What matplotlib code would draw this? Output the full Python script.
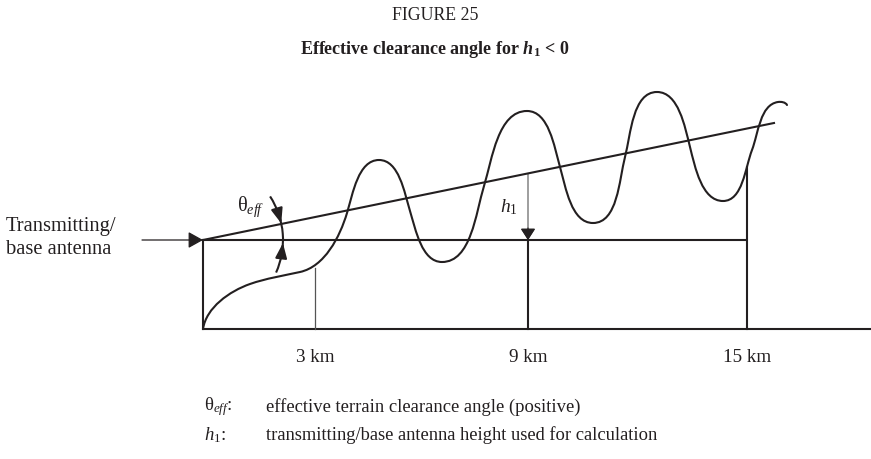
import numpy as np
import matplotlib
matplotlib.use("Agg")
import matplotlib.pyplot as plt
from matplotlib.path import Path
from matplotlib.patches import PathPatch, Arc, FancyArrowPatch

plt.rcParams['font.family'] = ['Liberation Serif', 'DejaVu Serif']
plt.rcParams['mathtext.fontset'] = 'custom'
plt.rcParams['mathtext.rm'] = 'Liberation Serif'
plt.rcParams['mathtext.it'] = 'Liberation Serif:italic'
plt.rcParams['mathtext.bf'] = 'Liberation Serif:bold'
plt.rcParams['mathtext.bfit'] = 'Liberation Serif:italic:bold'

# ---- data (diagram coordinates, pixels with y downward) ----
tick_labels = ["3 km", "9 km", "15 km"]
tick_x = [315, 528, 747]
tick_top = [268, 240, 167]          # where each distance marker meets terrain / line
ground_y = 329
origin_x = 203
antenna_y = 240
horiz_end_x = 746
slope_end = (774, 123)

# terrain profile nodes and tangent directions
terrain_x = [203, 250, 300, 347, 379, 410, 442, 484, 527, 560, 593, 625, 657, 690, 723, 752, 778, 787]
terrain_y = [329, 284, 272, 213, 160, 211, 262, 186, 111, 167, 223, 157, 92, 147, 201, 150, 102, 105]
terrain_dx = [0.15, 1, 1, 0.3, 1, 0.3, 1, 0.3, 1, 0.28, 1, 0.25, 1, 0.25, 1, 0.38, 1, 0.5]
terrain_dy = [-1, -0.35, -0.22, -1, 0, 1, 0, -1, 0, 1, 0, -1, 0, 1, 0, -1, -0.15, 1]

C = '#231f20'
LW = 1.5

fig = plt.figure(figsize=(8.71, 4.59), dpi=100)
ax = fig.add_axes([0, 0, 1, 1])
ax.set_xlim(0, 871)
ax.set_ylim(459, 0)
ax.axis('off')

# terrain curve as Hermite -> cubic Bezier path
verts = [(terrain_x[0], terrain_y[0])]
codes = [Path.MOVETO]
for i in range(len(terrain_x) - 1):
    p0 = np.array([terrain_x[i], terrain_y[i]], float)
    p3 = np.array([terrain_x[i + 1], terrain_y[i + 1]], float)
    d0 = np.array([terrain_dx[i], terrain_dy[i]], float)
    d1 = np.array([terrain_dx[i + 1], terrain_dy[i + 1]], float)
    d0 /= np.hypot(*d0)
    d1 /= np.hypot(*d1)
    L = np.hypot(*(p3 - p0)) / 3.0
    verts += [tuple(p0 + d0 * L), tuple(p3 - d1 * L), tuple(p3)]
    codes += [Path.CURVE4] * 3
ax.add_patch(PathPatch(Path(verts, codes), fill=False, ec=C, lw=LW, capstyle='round'))

# ground line, left vertical, horizontal antenna line, sloped line
ax.plot([origin_x, 871], [ground_y, ground_y], color=C, lw=LW)
ax.plot([origin_x, origin_x], [antenna_y, ground_y], color=C, lw=LW)
ax.plot([origin_x, horiz_end_x], [antenna_y, antenna_y], color=C, lw=LW)
ax.plot([origin_x, slope_end[0]], [antenna_y, slope_end[1]], color=C, lw=LW)

# distance markers
for x, top, lab, w, c in zip(tick_x, tick_top, tick_labels, [0.9, 1.5, 1.5], ['#555555', C, C]):
    ax.plot([x, x], [top, ground_y], color=c, lw=w)
    ax.text(x, 357, lab, ha='center', va='center', fontsize=13.8, color=C)

# h1 arrow
slope = (antenna_y - slope_end[1]) / (slope_end[0] - origin_x)
y_on_line = antenna_y - slope * (tick_x[1] - origin_x)
ax.add_patch(FancyArrowPatch((tick_x[1], y_on_line), (tick_x[1], antenna_y),
                             arrowstyle='-|>,head_length=7,head_width=4.5', color='#555555',
                             lw=0.8, shrinkA=0, shrinkB=0, mutation_scale=1))
ax.add_patch(FancyArrowPatch((tick_x[1], antenna_y - 12), (tick_x[1], antenna_y),
                             arrowstyle='-|>,head_length=7,head_width=4.5', color=C,
                             lw=0.8, shrinkA=0, shrinkB=0, mutation_scale=1))
ax.text(500, 207, r'$h_{\mathrm{1}}$', fontsize=14, ha='left', va='center', color=C)

# transmitting antenna arrow + label
ax.add_patch(FancyArrowPatch((142, antenna_y), (origin_x, antenna_y),
                             arrowstyle='-|>,head_length=9,head_width=5', color=C,
                             lw=0.9, shrinkA=0, shrinkB=0, mutation_scale=1))
ax.text(6, 227, 'Transmitting/', fontsize=14.8, ha='left', va='center', color=C)
ax.text(6, 249, 'base antenna', fontsize=14.8, ha='left', va='center', color=C)

# theta_eff arc with arrows (screen angles, counter-clockwise positive)
R = 80
ax.add_patch(Arc((origin_x, antenna_y), 2 * R, 2 * R, theta1=-33, theta2=24, color=C, lw=LW))
def pt(a):
    a = np.deg2rad(a)
    return (origin_x + R * np.cos(a), antenna_y - R * np.sin(a))
ax.add_patch(FancyArrowPatch(pt(21), pt(12.0),
                             arrowstyle='-|>,head_length=9,head_width=3.5', color=C,
                             lw=LW, shrinkA=0, shrinkB=0, mutation_scale=1))
ax.add_patch(FancyArrowPatch(pt(-11), pt(-2.2),
                             arrowstyle='-|>,head_length=9,head_width=3.5', color=C,
                             lw=LW, shrinkA=0, shrinkB=0, mutation_scale=1))
ax.text(237, 207, r'θ$_{\mathit{eff}}$', fontsize=14.5, ha='left', va='center', color=C)

# titles
ax.text(435, 16, 'FIGURE 25', fontsize=12.8, ha='center', va='center', color=C)
ax.text(435, 50, r'Effective clearance angle for $\mathbfit{h}_{\mathbf{1}}$ < 0', fontsize=13,
        ha='center', va='center', color=C, fontweight='bold')

# legend lines
ax.text(204, 407, r'θ$_{\mathit{eff}}$:', fontsize=13.5, ha='left', va='center', color=C)
ax.text(266, 407, 'effective terrain clearance angle (positive)', fontsize=13.4,
        ha='left', va='center', color=C)
ax.text(204, 435, r'$h_{\mathrm{1}}$:', fontsize=13.5, ha='left', va='center', color=C)
ax.text(266, 435, 'transmitting/base antenna height used for calculation', fontsize=13.3,
        ha='left', va='center', color=C)

fig.savefig('out.png', dpi=100)
